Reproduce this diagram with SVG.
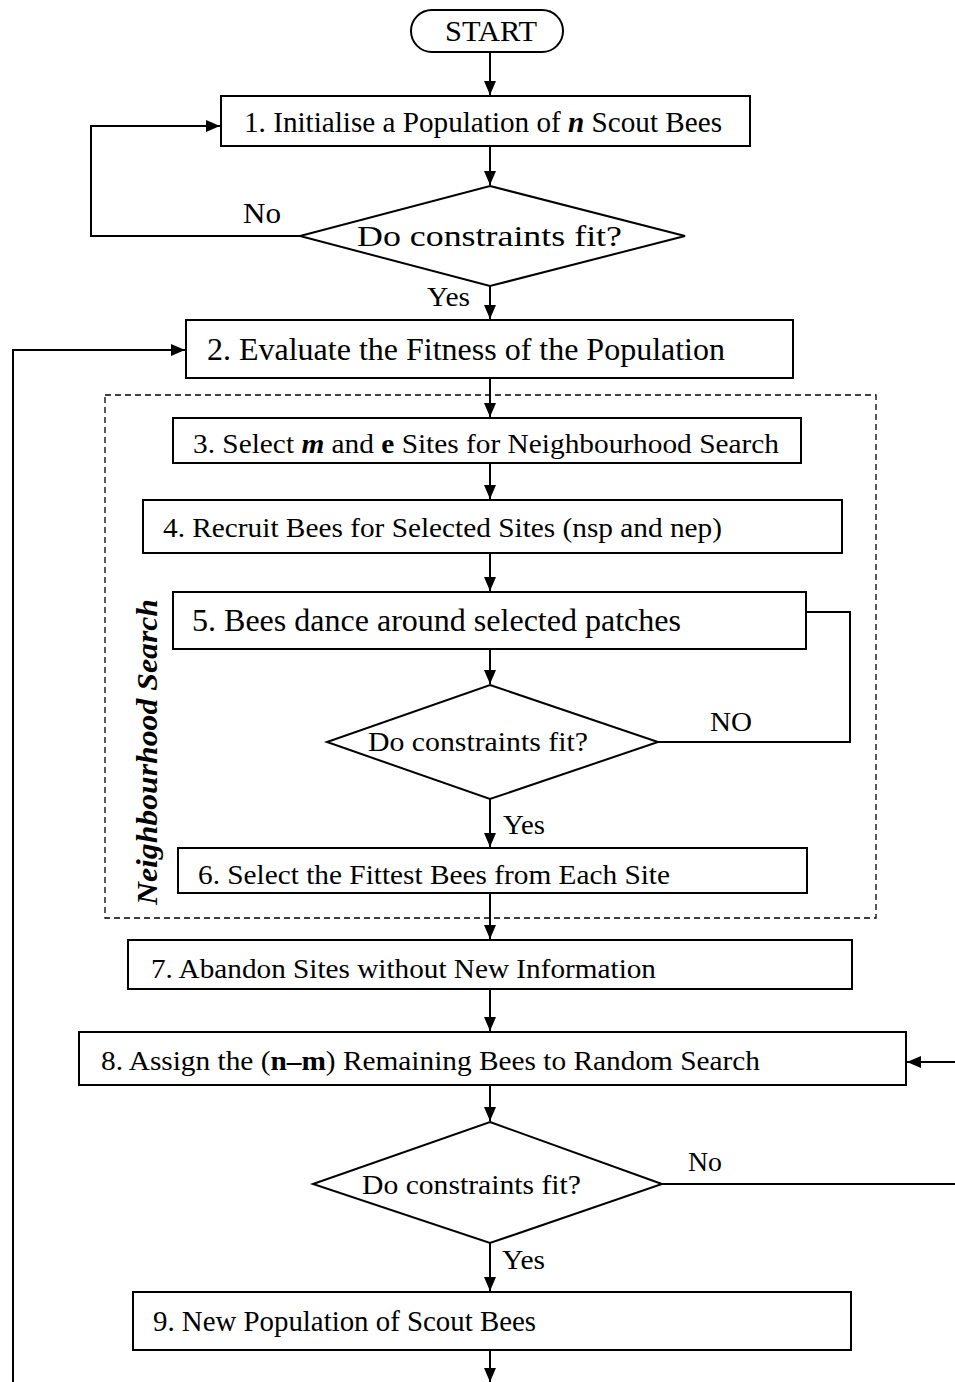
<svg xmlns="http://www.w3.org/2000/svg" width="955" height="1382" viewBox="0 0 955 1382">
<style>
.box{fill:#fff;stroke:#000;stroke-width:2}
.ln{fill:none;stroke:#000;stroke-width:2}
.t{font-family:"Liberation Serif","Times New Roman",serif;fill:#000}
</style>
<defs>
<marker id="ah" markerWidth="14" markerHeight="12" refX="14" refY="6" orient="auto" markerUnits="userSpaceOnUse">
<path d="M0,0 L14,6 L0,12 Z" fill="#000"/>
</marker>
</defs>
<rect width="955" height="1382" fill="#fff"/>
<g id="neighbourhood">
<rect x="105" y="395" width="771" height="523" fill="none" stroke="#000" stroke-width="1.3" stroke-dasharray="6,4"/>
<text class="t" font-size="30" font-weight="bold" font-style="italic" text-anchor="middle" transform="translate(157 752) rotate(-90)" textLength="306" lengthAdjust="spacingAndGlyphs">Neighbourhood Search</text>
</g>
<g id="connectors">
<line class="ln" x1="490" y1="52" x2="490" y2="95" marker-end="url(#ah)"/>
<line class="ln" x1="490" y1="146" x2="490" y2="185" marker-end="url(#ah)"/>
<polyline class="ln" points="300,236 91,236 91,126 220,126" marker-end="url(#ah)"/>
<line class="ln" x1="490" y1="286" x2="490" y2="319" marker-end="url(#ah)"/>
<polyline class="ln" points="13,1382 13,350 185,350" marker-end="url(#ah)"/>
<line class="ln" x1="490" y1="378" x2="490" y2="417" marker-end="url(#ah)"/>
<line class="ln" x1="490" y1="463" x2="490" y2="499" marker-end="url(#ah)"/>
<line class="ln" x1="490" y1="553" x2="490" y2="591" marker-end="url(#ah)"/>
<polyline class="ln" points="806,612 850,612 850,742 658,742"/>
<line class="ln" x1="490" y1="649" x2="490" y2="684" marker-end="url(#ah)"/>
<line class="ln" x1="490" y1="799" x2="490" y2="847" marker-end="url(#ah)"/>
<line class="ln" x1="490" y1="893" x2="490" y2="939" marker-end="url(#ah)"/>
<line class="ln" x1="490" y1="989" x2="490" y2="1031" marker-end="url(#ah)"/>
<line class="ln" x1="955" y1="1062" x2="907" y2="1062" marker-end="url(#ah)"/>
<line class="ln" x1="490" y1="1085" x2="490" y2="1121" marker-end="url(#ah)"/>
<line class="ln" x1="662" y1="1184" x2="955" y2="1184"/>
<line class="ln" x1="490" y1="1243" x2="490" y2="1291" marker-end="url(#ah)"/>
<line class="ln" x1="490" y1="1340" x2="490" y2="1382" marker-end="url(#ah)"/>
<text class="t" x="243" y="223" font-size="30" textLength="38" lengthAdjust="spacingAndGlyphs">No</text>
<text class="t" x="427" y="306" font-size="28" textLength="43" lengthAdjust="spacingAndGlyphs">Yes</text>
<text class="t" x="710" y="731" font-size="28" textLength="42" lengthAdjust="spacingAndGlyphs">NO</text>
<text class="t" x="503" y="834" font-size="28" textLength="42" lengthAdjust="spacingAndGlyphs">Yes</text>
<text class="t" x="688" y="1171" font-size="28" textLength="34" lengthAdjust="spacingAndGlyphs">No</text>
<text class="t" x="502" y="1269" font-size="28" textLength="43" lengthAdjust="spacingAndGlyphs">Yes</text>
</g>
<g id="start">
<rect class="box" x="411" y="10" width="152" height="42" rx="21"/>
<text class="t" x="491" y="41" font-size="29" text-anchor="middle" textLength="92" lengthAdjust="spacingAndGlyphs">START</text>
</g>
<g id="step1">
<rect class="box" x="221" y="96" width="529" height="50"/>
<text class="t" x="244" y="132" font-size="29" textLength="478" lengthAdjust="spacingAndGlyphs">1. Initialise a Population of <tspan font-weight="bold" font-style="italic">n</tspan> Scout Bees</text>
</g>
<g id="decision1">
<polygon class="box" points="490,186 685,236 490,286 300,236"/>
<text class="t" x="357" y="246" font-size="30" textLength="265" lengthAdjust="spacingAndGlyphs">Do constraints fit?</text>
</g>
<g id="step2">
<rect class="box" x="186" y="320" width="607" height="58"/>
<text class="t" x="207" y="360" font-size="31" textLength="518" lengthAdjust="spacingAndGlyphs">2. Evaluate the Fitness of the Population</text>
</g>
<g id="step3">
<rect class="box" x="173" y="418" width="628" height="45"/>
<text class="t" x="193" y="453" font-size="28" textLength="586" lengthAdjust="spacingAndGlyphs">3. Select <tspan font-weight="bold" font-style="italic">m</tspan> and <tspan font-weight="bold">e</tspan> Sites for Neighbourhood Search</text>
</g>
<g id="step4">
<rect class="box" x="143" y="500" width="699" height="53"/>
<text class="t" x="163" y="537" font-size="28" textLength="559" lengthAdjust="spacingAndGlyphs">4. Recruit Bees for Selected Sites (nsp and nep)</text>
</g>
<g id="step5">
<rect class="box" x="173" y="592" width="633" height="57"/>
<text class="t" x="192" y="631" font-size="31" textLength="489" lengthAdjust="spacingAndGlyphs">5. Bees dance around selected patches</text>
</g>
<g id="decision2">
<polygon class="box" points="490,685 658,742 490,799 327,742"/>
<text class="t" x="368" y="751" font-size="28" textLength="220" lengthAdjust="spacingAndGlyphs">Do constraints fit?</text>
</g>
<g id="step6">
<rect class="box" x="178" y="848" width="629" height="45"/>
<text class="t" x="198" y="884" font-size="28" textLength="472" lengthAdjust="spacingAndGlyphs">6. Select the Fittest Bees from Each Site</text>
</g>
<g id="step7">
<rect class="box" x="128" y="940" width="724" height="49"/>
<text class="t" x="151" y="978" font-size="28" textLength="505" lengthAdjust="spacingAndGlyphs">7. Abandon Sites without New Information</text>
</g>
<g id="step8">
<rect class="box" x="79" y="1032" width="827" height="53"/>
<text class="t" x="101" y="1070" font-size="28" textLength="659" lengthAdjust="spacingAndGlyphs">8. Assign the (<tspan font-weight="bold">n–m</tspan>) Remaining Bees to Random Search</text>
</g>
<g id="decision3">
<polygon class="box" points="490,1122 662,1184 490,1243 313,1184"/>
<text class="t" x="362" y="1194" font-size="28" textLength="219" lengthAdjust="spacingAndGlyphs">Do constraints fit?</text>
</g>
<g id="step9">
<rect class="box" x="133" y="1292" width="718" height="58"/>
<text class="t" x="153" y="1331" font-size="29" textLength="383" lengthAdjust="spacingAndGlyphs">9. New Population of Scout Bees</text>
</g>
</svg>
